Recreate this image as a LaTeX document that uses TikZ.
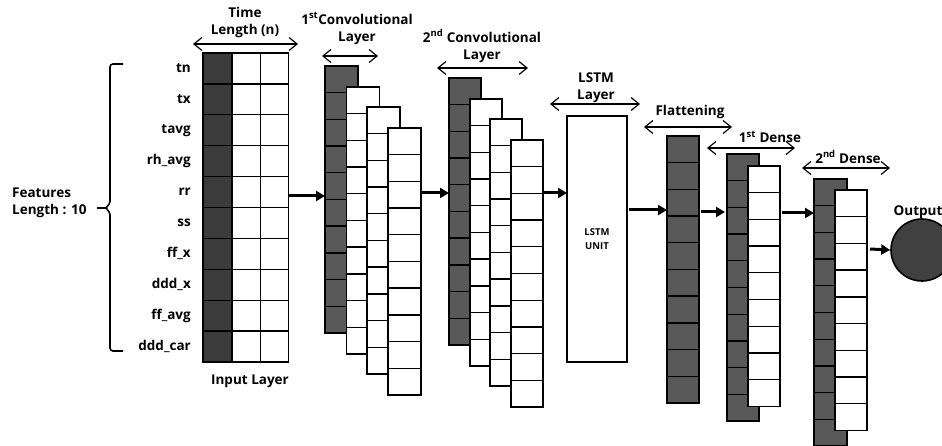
\documentclass[tikz,border=0pt]{standalone}
\usepackage{fontspec}
\setmainfont{Open Sans}
\usetikzlibrary{arrows.meta, positioning, calc}

\definecolor{inputdark}{HTML}{3B3B3B}
\definecolor{celldark}{HTML}{595959}
\definecolor{outdark}{HTML}{404040}

% one column of cells: name, x, y, width, cells, cell height, fill
\newcommand{\cellcol}[7]{%
  \node[col, fill=#7, minimum width=#4pt, minimum height={#5*#6pt}] (#1) at (#2,#3) {};
  \foreach \k in {2,...,#5}
    \draw[grid] ([yshift={-(\k-1)*#6pt}]#1.north west) -- ([yshift={-(\k-1)*#6pt}]#1.north east);
}

\begin{document}
\begin{tikzpicture}[
    x=1pt, y=-1pt,
    col/.style={rectangle, draw, line width=1.4pt, anchor=north west, inner sep=0pt, outer sep=0pt},
    grid/.style={line width=1.4pt},
    flow/.style={-{Triangle[length=9pt, width=10pt]}, line width=3pt},
    span/.style={{Straight Barb[length=8pt, width=13pt]}-{Straight Barb[length=8pt, width=13pt]}, line width=1.2pt},
    lbl/.style={font=\fontsize{13.5}{17}\selectfont\bfseries, inner sep=0pt, align=center},
    featlbl/.style={font=\fontsize{13.5}{17}\selectfont\bfseries, inner sep=0pt, anchor=east}
]
\useasboundingbox (0,0) rectangle (942,446);

% Input layer
\cellcol{in1}{203}{53}{29}{10}{30.9}{inputdark}
\cellcol{in2}{232}{53}{28.5}{10}{30.9}{white}
\cellcol{in3}{260.5}{53}{28}{10}{30.9}{white}

\foreach \f [count=\i] in {tn, tx, tavg, rh\_avg, rr, ss, ff\_x, ddd\_x, ff\_avg, ddd\_car}
  \node[featlbl] (f\i) at (191, {53+(\i-0.5)*30.9}) {\f};

\node[lbl, anchor=west, align=left] (feat) at (12,203) {Features\\Length : 10};
\draw[line width=1.6pt, rounded corners=3pt] (123,64) -- (110,64) -- (110,204) -- (105,208) -- (110,212) -- (110,351) -- (123,351);
\draw[line width=1.6pt] (97,208) -- (106,208);

\node[lbl] (inlbl) at (250,381) {Input Layer};
\node[lbl] (tlen) at (245,22) {Time\\Length (n)};
\draw[span] (193,44) -- (298,44);

% 1st convolutional layer
\cellcol{c1a}{325}{66}{33}{10}{26.7}{celldark}
\cellcol{c1b}{346.5}{87}{33}{10}{26.7}{white}
\cellcol{c1c}{367}{107}{33}{10}{26.7}{white}
\cellcol{c1d}{388}{128}{33}{10}{26.7}{white}
\node[lbl] (c1lbl) at (357,28.5) {1\textsuperscript{st}Convolutional\\Layer};
\draw[span] (322,56) -- (378,56);

% 2nd convolutional layer
\cellcol{c2a}{449}{78}{32}{10}{26.7}{celldark}
\cellcol{c2b}{470}{99}{32}{10}{26.7}{white}
\cellcol{c2c}{490}{119}{32}{10}{26.7}{white}
\cellcol{c2d}{511}{140}{32}{10}{26.7}{white}
\node[lbl] (c2lbl) at (482,46) {2\textsuperscript{nd} Convolutional\\Layer};
\draw[span] (437,68) -- (528,68);

% LSTM layer
\node[col, minimum width=60pt, minimum height=246pt, font=\fontsize{9.5}{14}\selectfont\bfseries, align=center] (lstm) at (567,116) {LSTM\\UNIT};
\node[lbl] (lstmlbl) at (596,88) {LSTM\\Layer};
\draw[span] (550,104) -- (640,104);

% Flattening
\cellcol{flat}{667}{136}{32}{10}{26.7}{celldark}
\node[lbl] (flatlbl) at (690,112) {Flattening};
\draw[span] (644,127) -- (732,127);

% 1st dense
\cellcol{d1a}{727}{154}{32}{10}{26.7}{celldark}
\cellcol{d1b}{748}{166}{32}{9}{26.7}{white}
\node[lbl] (d1lbl) at (770,137) {1\textsuperscript{st} Dense};
\draw[span] (707,148) -- (795,148);

% 2nd dense
\cellcol{d2a}{814}{179}{33}{10}{26.7}{celldark}
\cellcol{d2b}{835}{190}{32}{9}{26.7}{white}
\node[lbl] (d2lbl) at (848,157) {2\textsuperscript{nd} Dense};
\draw[span] (802,168) -- (890,168);

% Output
\node[circle, draw, line width=1.6pt, fill=outdark, minimum size=62pt, inner sep=0pt] (out) at (922,250) {};
\node[lbl] (outlbl) at (918,212) {Output};

% Arrows
\draw[flow] (in3.east |- 0,196) -- (c1a.west |- 0,196);
\draw[flow] (c1d.east |- 0,193) -- (c2a.west |- 0,193);
\draw[flow] (c2d.east |- 0,193) -- (lstm.west |- 0,193);
\draw[flow] ([xshift=2pt]lstm.east |- 0,210) -- (flat.west |- 0,210);
\draw[flow] ([xshift=2pt]flat.east |- 0,212) -- ([xshift=-2pt]d1a.west |- 0,212);
\draw[flow] ([xshift=2pt]d1b.east |- 0,213) -- (d2a.west |- 0,213);
\draw[flow] ([xshift=3pt]d2b.east |- 0,249) -- (out.west);

\end{tikzpicture}
\end{document}
